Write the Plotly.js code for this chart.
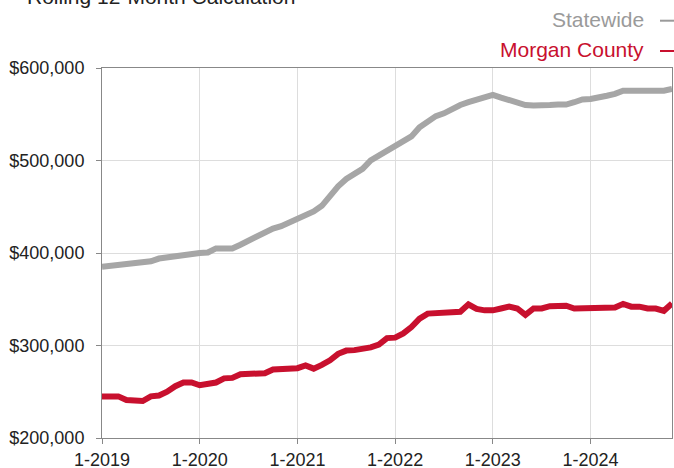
<!DOCTYPE html>
<html>
<head>
<meta charset="utf-8">
<script src="https://cdn.plot.ly/plotly-3.0.1.min.js"></script>
<style>
  html, body { margin: 0; padding: 0; background: #fff; }
  #chart { width: 674px; height: 468px; }
</style>
</head>
<body>
<div id="chart"></div>
<script>
// Month categories (1-2019 .. 11-2024)
const months = [
  "1-2019","2-2019","3-2019","4-2019","5-2019","6-2019","7-2019","8-2019","9-2019","10-2019","11-2019","12-2019",
  "1-2020","2-2020","3-2020","4-2020","5-2020","6-2020","7-2020","8-2020","9-2020","10-2020","11-2020","12-2020",
  "1-2021","2-2021","3-2021","4-2021","5-2021","6-2021","7-2021","8-2021","9-2021","10-2021","11-2021","12-2021",
  "1-2022","2-2022","3-2022","4-2022","5-2022","6-2022","7-2022","8-2022","9-2022","10-2022","11-2022","12-2022",
  "1-2023","2-2023","3-2023","4-2023","5-2023","6-2023","7-2023","8-2023","9-2023","10-2023","11-2023","12-2023",
  "1-2024","2-2024","3-2024","4-2024","5-2024","6-2024","7-2024","8-2024","9-2024","10-2024","11-2024"
];

const statewideName = "Statewide";
const statewide = [
  385000,386000,387500,389000,389500,390000,391000,394000,395500,397000,398500,399500,
  400000,400500,405000,405000,405000,409000,413500,418000,423000,426500,429000,433000,
  437000,440000,445000,451000,462000,472000,480000,486000,491000,500000,505000,510000,
  515000,520000,526000,536000,542000,548000,551000,556000,560000,563000,566000,568000,
  571000,568000,565000,562000,560000,559500,559000,560000,560500,560500,563000,566000,
  566500,567500,570000,572000,575500,575500,575500,575500,575500,575500,577500
];

const countyName = "Morgan County";
const county = [
  245000,245000,245000,241000,240000,240000,245000,246000,250000,256000,260000,260000,
  257000,259000,260000,264500,265000,269000,269500,270000,270000,274000,275000,275500,
  275500,278500,275000,279000,284000,291000,294500,295000,296000,298000,301000,308000,
  308500,313000,320000,329000,334500,335000,335500,336000,336500,344500,339500,338000,
  338000,340000,342000,340000,333000,340000,340000,342500,343000,343000,340000,340000,
  341000,340000,340500,341000,345000,342000,342000,340000,340000,337500,345500
];

const xTicks = ["1-2019","1-2020","1-2021","1-2022","1-2023","1-2024"];
const yTicks = [200000,300000,400000,500000,600000];
const titleText = "Rolling 12-Month Calculation";

const grayLine = "#a6a6a6";
const redLine = "#c8102e";
const FONT = "Liberation Sans, Arial, Helvetica, sans-serif";

const traces = [
  { x: months, y: statewide, name: statewideName, type: "scatter", mode: "lines",
    line: { color: grayLine, width: 6 }, showlegend: false, hoverinfo: "skip" },
  { x: months, y: county, name: countyName, type: "scatter", mode: "lines",
    line: { color: redLine, width: 6 }, showlegend: false, hoverinfo: "skip" }
];

// plot area: l=102, r=2 -> width 570; t=68, b=30 -> height 370
function px2paperX(px) { return (px - 102) / 570; }
function px2paperY(py) { return (438 - py) / 370; }

const layout = {
  width: 674, height: 468,
  margin: { l: 102, r: 2, t: 68, b: 30, pad: 0 },
  paper_bgcolor: "#ffffff", plot_bgcolor: "#ffffff",
  font: { family: FONT, size: 18, color: "#222222" },
  showlegend: false,
  xaxis: {
    type: "category",
    range: [0, months.length - 1],
    tickmode: "array", tickvals: xTicks, ticktext: xTicks,
    showgrid: true, gridcolor: "#dddddd", gridwidth: 1,
    showline: true, linecolor: "#888888", linewidth: 1, mirror: true,
    ticks: "outside", ticklen: 5, tickcolor: "#888888",
    tickfont: { family: FONT, size: 18, color: "#222222" },
    zeroline: false, fixedrange: true
  },
  yaxis: {
    range: [200000, 600000],
    tickmode: "array", tickvals: yTicks,
    tickformat: "$,.0f",
    showgrid: true, gridcolor: "#dddddd", gridwidth: 1,
    showline: true, linecolor: "#888888", linewidth: 1, mirror: true,
    ticks: "outside", ticklen: 5, tickcolor: "#888888",
    ticklabelstandoff: 8,
    tickfont: { family: FONT, size: 18, color: "#222222" },
    zeroline: false, fixedrange: true
  },
  annotations: [
    { text: titleText, xref: "paper", yref: "paper", x: px2paperX(25), y: px2paperY(-3.5),
      xanchor: "left", yanchor: "middle", showarrow: false,
      font: { family: FONT, size: 21, color: "#222222" } },
    { text: statewideName, xref: "paper", yref: "paper", x: px2paperX(646), y: px2paperY(19.5),
      xanchor: "right", yanchor: "middle", showarrow: false,
      font: { family: FONT, size: 21, color: "#9a9a9a" } },
    { text: countyName, xref: "paper", yref: "paper", x: px2paperX(646), y: px2paperY(49.8),
      xanchor: "right", yanchor: "middle", showarrow: false,
      font: { family: FONT, size: 21, color: redLine } }
  ],
  shapes: [
    { type: "line", xref: "paper", yref: "paper", x0: px2paperX(660), x1: px2paperX(676),
      y0: px2paperY(20.7), y1: px2paperY(20.7), line: { color: "#9a9a9a", width: 2 } },
    { type: "line", xref: "paper", yref: "paper", x0: px2paperX(660), x1: px2paperX(676),
      y0: px2paperY(51), y1: px2paperY(51), line: { color: redLine, width: 2 } }
  ]
};

Plotly.newPlot("chart", traces, layout, { displayModeBar: false, staticPlot: true });
</script>
</body>
</html>
